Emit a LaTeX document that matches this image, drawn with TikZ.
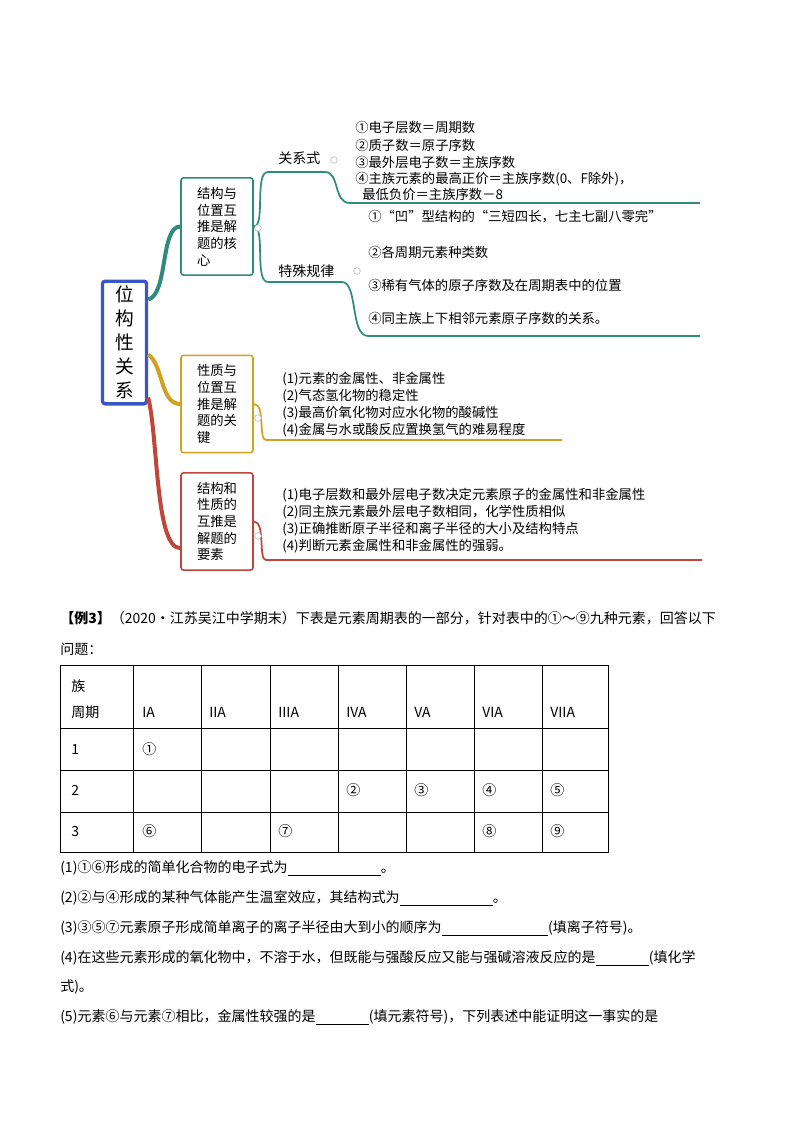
\documentclass[tikz,border=0pt]{standalone}
\usepackage{fontspec}
\setmainfont{Noto Sans CJK SC}
\begin{document}
\begin{tikzpicture}[x=0.75pt,y=-0.75pt,
  tx/.style={anchor=west,inner sep=0,font=\fontsize{10}{11}\selectfont},
  bx/.style={draw,line width=1.2pt,rounded corners=2pt,minimum width=54pt,minimum height=73pt,inner sep=2pt,align=left,font=\fontsize{10}{12.5}\selectfont},
  qt/.style={anchor=west,inner sep=0,font=\fontsize{10.5}{12}\selectfont},
  col/.style={circle,draw=gray!60,inner sep=0,minimum size=5pt,fill=white},
  br/.style={line width=1.3pt}]
\useasboundingbox (0,0) rectangle (800,1132);
\definecolor{teal1}{HTML}{2F8C7C}\definecolor{gold1}{HTML}{D4A020}\definecolor{red1}{HTML}{C0453A}\definecolor{blue1}{HTML}{3A55C8}
% root
\node[draw=blue1,line width=2.5pt,rounded corners=2pt,minimum width=33pt,minimum height=92pt,inner sep=0,align=center,font=\fontsize{14}{18}\selectfont] (root) at (124.5,342.5) {位\\构\\性\\关\\系};
\node[draw=teal1,bx] (b1) at (217,226.5) {结构与\\位置互\\推是解\\题的核\\心};
\node[draw=gold1,bx] (b2) at (217,404) {性质与\\位置互\\推是解\\题的关\\键};
\node[draw=red1,bx] (b3) at (217,521.5) {结构和\\性质的\\互推是\\解题的\\要素};
\draw[teal1,line width=3pt] (root.north east)++(0,20) .. controls +(20,-5) and +(-20,0) .. (b1.west);
\draw[gold1,line width=3pt] (root.east)++(0,12) .. controls +(15,10) and +(-20,0) .. (b2.west);
\draw[red1,line width=3pt] (root.south east)++(0,-8) .. controls +(10,40) and +(-25,0) .. ([yshift=-20pt]b3.west);
% branch 1
\node[tx,font=\fontsize{10.5}{11}\selectfont] (gx) at (278,158) {关系式};
\node[tx,font=\fontsize{10.5}{11}\selectfont] (ts) at (278,271) {特殊规律};
\draw[teal1,br] (b1.east) .. controls +(12,0) and +(-14,0) .. (268,172) -- (325,172) .. controls (340,172) and (333,203) .. (350,203) -- (700,203);
\draw[teal1,br] (b1.east) .. controls +(12,0) and +(-14,0) .. (268,282) -- (342,282) .. controls (358,282) and (350,336) .. (368,336) -- (700,336);
\node[col] (c1) at (334,160) {};
\node[col] (c2) at (357,271) {};
\node[col] (c0) at (258,228) {};
\node[tx] (a1) at (355,127) {①电子层数＝周期数};
\node[tx] (a2) at (355,145) {②质子数＝原子序数};
\node[tx] (a3) at (355,162) {③最外层电子数＝主族序数};
\node[tx] (a4) at (355,179) {④主族元素的最高正价＝主族序数(0、F除外)，};
\node[tx] (a5) at (362,194) {最低负价＝主族序数－8};
\node[tx] (s1) at (368,217) {①“凹”型结构的“三短四长，七主七副八零完”};
\node[tx] (s2) at (368,252) {②各周期元素种类数};
\node[tx] (s3) at (368,285) {③稀有气体的原子序数及在周期表中的位置};
\node[tx] (s4) at (368,318) {④同主族上下相邻元素原子序数的关系。};
% branch 2
\draw[gold1,br] (b2.east) .. controls +(12,0) and +(-8,0) .. (266,440) -- (562,440);
\node[col] at (258,418) {};
\node[tx] at (282,379) {(1)元素的金属性、非金属性};
\node[tx] at (282,396) {(2)气态氢化物的稳定性};
\node[tx] at (282,413) {(3)最高价氧化物对应水化物的酸碱性};
\node[tx] at (282,430) {(4)金属与水或酸反应置换氢气的难易程度};
% branch 3
\draw[red1,br] (b3.east) .. controls +(12,0) and +(-8,0) .. (266,560) -- (702,560);
\node[col] at (258,536) {};
\node[tx] at (282,495) {(1)电子层数和最外层电子数决定元素原子的金属性和非金属性};
\node[tx] at (282,512) {(2)同主族元素最外层电子数相同，化学性质相似};
\node[tx] at (282,529) {(3)正确推断原子半径和离子半径的大小及结构特点};
\node[tx] at (282,546) {(4)判断元素金属性和非金属性的强弱。};
% example
\node[qt] at (60,618) {\textbf{【例3】}（2020·江苏吴江中学期末）下表是元素周期表的一部分，针对表中的①～⑨九种元素，回答以下};
\node[qt] at (60,649) {问题：};
% table
\draw[line width=0.6pt] (60,665) rectangle (608,852);
\foreach \y in {728,770,812} \draw[line width=0.6pt] (60,\y) -- (608,\y);
\foreach \x in {133,201,270,338,406,474,542} \draw[line width=0.6pt] (\x,665) -- (\x,852);
\node[qt] at (71,686) {族};
\node[qt] at (71,712) {周期};
\foreach \x/\t in {142/IA,209/IIA,278/IIIA,346/IVA,414/VA,482/VIA,550/VIIA} \node[qt] at (\x,712) {\t};
\node[qt] at (71,749) {1};\node[qt] at (142,749) {①};
\node[qt] at (71,790) {2};\node[qt] at (346,790) {②};\node[qt] at (414,790) {③};\node[qt] at (482,790) {④};\node[qt] at (550,790) {⑤};
\node[qt] at (71,831) {3};\node[qt] at (142,831) {⑥};\node[qt] at (278,831) {⑦};\node[qt] at (482,831) {⑧};\node[qt] at (550,831) {⑨};
\newcommand\blk[1]{\rule[-2pt]{#1}{0.4pt}}
\node[qt] at (60,868) {(1)①⑥形成的简单化合物的电子式为\blk{70pt}。};
\node[qt] at (60,898) {(2)②与④形成的某种气体能产生温室效应，其结构式为\blk{70pt}。};
\node[qt] at (60,928) {(3)③⑤⑦元素原子形成简单离子的离子半径由大到小的顺序为\blk{80pt}(填离子符号)。};
\node[qt] at (60,958) {(4)在这些元素形成的氧化物中，不溶于水，但既能与强酸反应又能与强碱溶液反应的是\blk{40pt}(填化学};
\node[qt] at (60,987) {式)。};
\node[qt] at (60,1017) {(5)元素⑥与元素⑦相比，金属性较强的是\blk{40pt}(填元素符号)，下列表述中能证明这一事实的是};
\end{tikzpicture}
\end{document}
